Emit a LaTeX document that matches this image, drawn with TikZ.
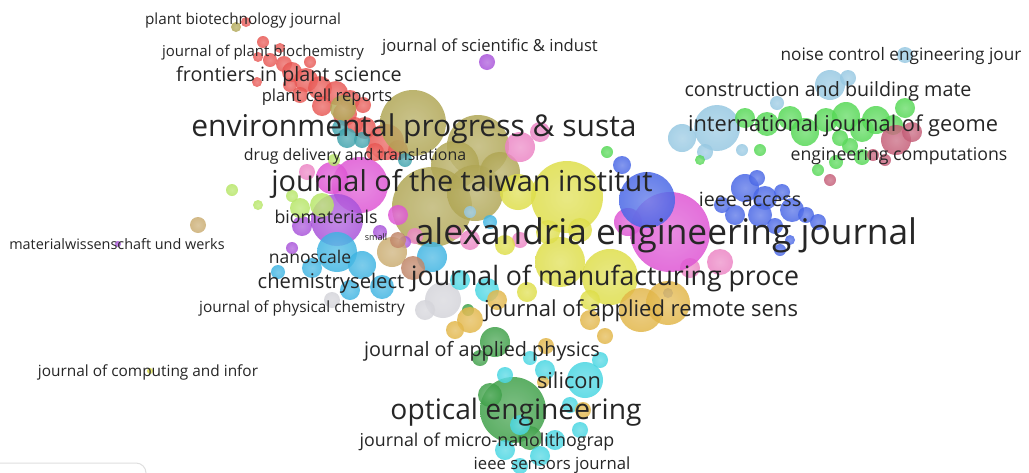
\documentclass[tikz,border=0pt]{standalone}
\usepackage{fontspec}
\setmainfont{Open Sans}
\pgfdeclarelayer{bg}
\pgfsetlayers{bg,main}
% cluster colours
\definecolor{vred}{RGB}{232,86,82}
\definecolor{volive}{RGB}{176,166,84}
\definecolor{vyellow}{RGB}{222,222,72}
\definecolor{vmag}{RGB}{222,84,212}
\definecolor{vpink}{RGB}{236,132,196}
\definecolor{vpurple}{RGB}{168,82,218}
\definecolor{vblue}{RGB}{72,102,230}
\definecolor{vgreen}{RGB}{84,216,84}
\definecolor{vltblue}{RGB}{150,200,226}
\definecolor{vrose}{RGB}{196,92,118}
\definecolor{vcyan}{RGB}{62,180,226}
\definecolor{vaqua}{RGB}{72,214,226}
\definecolor{vdkgreen}{RGB}{62,160,72}
\definecolor{vgold}{RGB}{226,182,72}
\definecolor{vlime}{RGB}{182,230,102}
\definecolor{vteal}{RGB}{62,162,172}
\definecolor{vtan}{RGB}{202,172,112}
\definecolor{vbrown}{RGB}{192,132,102}
\definecolor{vgray}{RGB}{212,212,218}
\definecolor{vlav}{RGB}{186,164,228}
\definecolor{vtext}{RGB}{38,38,38}
\tikzset{
  bubble/.style={circle,inner sep=0pt,draw=none,fill opacity=0.84,
    shading=radial,inner color=#1!80!white,outer color=#1},
  edge/.style={line width=0.7pt,draw opacity=0.35},
  lbl/.style={text=vtext,inner sep=0pt,anchor=center},
}
\newcommand\fsz[1]{\fontsize{#1}{#1}\selectfont}
\begin{document}
\begin{tikzpicture}[x=1pt,y=-1pt]
\useasboundingbox (0,0) rectangle (1029,472);
\clip (0,0) rectangle (1029,472);
\fill[white] (0,0) rectangle (1029,472);

% ---------- bubbles, cluster by cluster ----------
\foreach \x/\y/\r [count=\i] in {246/22/5,263/42/6,258/57/5,270/60/7,284/64/8,257/82/5,292/72/10,306/80/12,320/88/12,336/93/12,350/100/10,300/95/8,322/106/10,345/114/12,363/105/8,365/128/11,386/142/18,290/85/7,375/152/9,355/125/8,310/62/6,280/48/5,398/150/10}
  \node[bubble=vred,minimum size=2*\r] (red\i) at (\x,\y) {};
\foreach \x/\y/\r [count=\i] in {236/27/5,343/108/13,413/123/33,478/146/31,455/165/24,432/207/40,475/193/28,500/172/20}
  \node[bubble=volive,minimum size=2*\r] (olive\i) at (\x,\y) {};
\foreach \x/\y/\r [count=\i] in {340/128/8,347/138/10,362/140/8,405/160/7}
  \node[bubble=vteal,minimum size=2*\r] (teal\i) at (\x,\y) {};
\foreach \x/\y/\r [count=\i] in {520/147/15,540/132/10,307/172/8,720/262/13,415/236/8,690/268/10,470/240/10,520/240/8,455/232/7}
  \node[bubble=vpink,minimum size=2*\r] (pink\i) at (\x,\y) {};
\foreach \x/\y/\r [count=\i] in {360/185/28,332/178/16,670/232/40,628/222/14,398/215/10}
  \node[bubble=vmag,minimum size=2*\r] (mag\i) at (\x,\y) {};
\foreach \x/\y/\r [count=\i] in {337/220/26,302/226/10,292/248/6,487/62/8,405/242/6,118/244/3,380/232/7}
  \node[bubble=vpurple,minimum size=2*\r] (purple\i) at (\x,\y) {};
\foreach \x/\y/\r [count=\i] in {337/252/20,312/268/10,278/272/7,362/265/14,382/287/12,432/257/15,350/290/10,490/222/7}
  \node[bubble=vcyan,minimum size=2*\r] (cyan\i) at (\x,\y) {};
\foreach \x/\y/\r [count=\i] in {232/190/6,322/205/12,300/208/10,292/196/6,334/160/6,258/205/5}
  \node[bubble=vlime,minimum size=2*\r] (lime\i) at (\x,\y) {};
\foreach \x/\y/\r [count=\i] in {198/225/8,392/252/15}
  \node[bubble=vtan,minimum size=2*\r] (tan\i) at (\x,\y) {};
\foreach \x/\y/\r [count=\i] in {413/268/12,398/240/8}
  \node[bubble=vbrown,minimum size=2*\r] (brown\i) at (\x,\y) {};
\foreach \x/\y/\r [count=\i] in {443/300/18,425/310/10,332/300/8}
  \node[bubble=vgray,minimum size=2*\r] (gray\i) at (\x,\y) {};
\foreach \x/\y/\r [count=\i] in {567/197/36,560/262/25,610/277/28,518/192/18,590/300/10,527/292/10,548/232/12,505/245/10,580/230/12,150/371/3}
  \node[bubble=vyellow,minimum size=2*\r] (yellow\i) at (\x,\y) {};
\foreach \x/\y/\r [count=\i] in {647/200/28,745/188/14,765/198/12,782/192/8,792/210/12,760/215/12,735/215/10,806/215/8,775/226/8,818/222/8,722/205/8,757/178/8,622/165/9,668/293/5,790/240/5,780/250/6}
  \node[bubble=vblue,minimum size=2*\r] (blue\i) at (\x,\y) {};
\foreach \x/\y/\r [count=\i] in {717/128/23,682/138/14,777/103/7,830/85/15,848/78/8,905/55/8,742/150/6,705/152/8,470/212/6}
  \node[bubble=vltblue,minimum size=2*\r] (ltblue\i) at (\x,\y) {};
\foreach \x/\y/\r [count=\i] in {745/118/10,767/124/12,790/118/12,805/132/14,826/120/12,846/116/14,862/130/12,876/120/14,905/108/10,893/125/10,850/146/8,862/157/8,836/162/7,818/170/6,760/150/6,840/138/8,607/152/6,700/160/5}
  \node[bubble=vgreen,minimum size=2*\r] (green\i) at (\x,\y) {};
\foreach \x/\y/\r [count=\i] in {896/140/15,912/132/10,873/155/6,830/180/6,885/160/6}
  \node[bubble=vrose,minimum size=2*\r] (rose\i) at (\x,\y) {};
\foreach \x/\y/\r [count=\i] in {513/410/33,495/342/15,480/358/8,530/438/12,468/310/6,490/395/12}
  \node[bubble=vdkgreen,minimum size=2*\r] (dkgreen\i) at (\x,\y) {};
\foreach \x/\y/\r [count=\i] in {585/380/18,545/370/10,505/375/8,520/425/10,555/440/10,540/456/10,505/450/10,580/430/8,520/466/8,570/405/8,487/290/12,600/360/8,460/280/10,530/358/7}
  \node[bubble=vaqua,minimum size=2*\r] (aqua\i) at (\x,\y) {};
\foreach \x/\y/\r [count=\i] in {641/310/22,668/303/22,590/320/10,605/336/8,546/346/8,583/410/8,470/320/13,497/300/10,543/382/6,455/330/9}
  \node[bubble=vgold,minimum size=2*\r] (gold\i) at (\x,\y) {};

% ---------- links, behind the bubbles ----------
\begin{pgfonlayer}{bg}
\draw[edge,vpink] (red5.center) to[bend right=10] (purple2.center);
\draw[edge,vpink] (red9.center) to[bend right=8] (lime2.center);
\draw[edge,vpink] (red12.center) to[bend right=6] (mag2.center);
\draw[edge,vpink] (red7.center) to[bend right=12] (purple1.center);
\draw[edge,vpink] (red11.center) to[bend right=8] (lime5.center);
\draw[edge,vpink] (red13.center) to[bend right=10] (lime3.center);
\draw[edge,vpink] (red8.center) to[bend right=14] (purple3.center);
\draw[edge,vtan] (tan1.center) to[bend left=25] (lime3.center);
\draw[edge,gray] (olive3.center) to[bend left=12] (green1.center);
\draw[edge,gray] (olive4.center) to[bend left=10] (rose1.center);
\draw[edge,gray] (pink2.center) to[bend left=8] (ltblue2.center);
\draw[edge,vrose] (mag3.center) to[bend right=10] (rose2.center);
\draw[edge,vltblue] (yellow1.center) to[bend left=8] (ltblue1.center);
\draw[edge,vgreen] (blue1.center) to[bend left=6] (green5.center);
\draw[edge,vgreen] (green17.center) to[bend left=4] (green15.center);
\draw[edge,vltblue] (blue2.center) to[bend right=5] (ltblue3.center);
\draw[edge,vltblue] (mag3.center) to[bend left=8] (ltblue4.center);
\draw[edge,vltblue] (blue13.center) to[bend left=6] (ltblue1.center);
\draw[edge,vgreen] (pink1.center) to[bend left=10] (green2.center);
\draw[edge,vdkgreen] (yellow2.center) to[bend right=8] (dkgreen2.center);
\draw[edge,vaqua] (aqua2.center) to[bend right=6] (yellow3.center);
\draw[edge,vcyan] (cyan1.center) to[bend left=10] (red12.center);
\draw[edge,vpurple] (purple1.center) to[bend left=8] (red8.center);
\draw[edge,vlav] (olive6.center) to[bend right=6] (blue1.center);
\draw[edge,vlav] (cyan6.center) to[bend right=5] (mag3.center);
\draw[edge,vlav] (olive6.center) to[bend right=4] (mag3.center);
\draw[edge,vlav] (mag1.center) to[bend right=6] (yellow2.center);
\draw[edge,vlav] (purple1.center) to[bend right=8] (yellow1.center);
\draw[edge,vlav] (olive7.center) to[bend left=6] (pink4.center);
\draw[edge,vlav] (cyan4.center) to[bend right=6] (yellow3.center);
\draw[edge,vlav] (brown1.center) to[bend right=5] (pink6.center);
\draw[edge,vlav] (gray1.center) to[bend left=6] (mag4.center);
\draw[edge,vrose] (blue5.center) to[bend left=10] (rose3.center);
\draw[edge,gray] (mag3.center) to[bend right=12] (rose5.center);
\draw[edge,vgreen] (green17.center) to[bend left=6] (green3.center);
\draw[edge,vltblue] (olive4.center) to[bend left=10] (ltblue2.center);
\draw[edge,vltblue] (yellow1.center) to[bend left=10] (ltblue4.center);
\draw[edge,vaqua] (aqua1.center) to[bend left=8] (gold1.center);
\draw[edge,vaqua] (aqua3.center) to[bend left=6] (gold7.center);
\draw[edge,vlav] (gold7.center) to[bend right=8] (pink7.center);
\draw[edge,vgold] (gold6.center) to[bend right=6] (gold2.center);
\draw[edge,vlav] (mag1.center) to[bend left=6] (yellow4.center);
\draw[edge,vpink] (lime5.center) to[bend right=10] (red16.center);
\draw[edge,vblue] (blue13.center) to[bend left=6] (blue11.center);
\draw[edge,vlav] (dkgreen2.center) to[bend left=8] (purple1.center);
\draw[edge,vaqua] (dkgreen1.center) to[bend right=6] (aqua6.center);
\draw[edge,vaqua] (dkgreen2.center) to[bend right=8] (aqua1.center);
\end{pgfonlayer}

% ---------- journal labels ----------
\node[lbl,font=\fsz{15.3}] (l01) at (243,21) {plant biotechnology journal};
\node[lbl,font=\fsz{15}] (l02) at (263,53) {journal of plant biochemistry};
\node[lbl,font=\fsz{16.6}] (l03) at (490,47) {journal of scientific \& indust};
\node[lbl,font=\fsz{19.7}] (l04) at (289,76) {frontiers in plant science};
\node[lbl,font=\fsz{16.6}] (l05) at (327,97) {plant cell reports};
\node[lbl,font=\fsz{30}] (l06) at (414,129) {environmental progress \& susta};
\node[lbl,font=\fsz{15.9}] (l07) at (355,156) {drug delivery and translationa};
\node[lbl,font=\fsz{28.9}] (l08) at (462,184) {journal of the taiwan institut};
\node[lbl,font=\fsz{17.7}] (l09) at (326,217) {biomaterials};
\node[lbl,font=\fsz{9}] (l10) at (376,237) {small};
\node[lbl,font=\fsz{35.3}] (l11) at (666,235) {alexandria engineering journal};
\node[lbl,font=\fsz{14.4}] (l12) at (117,244) {materialwissenschaft und werks};
\node[lbl,font=\fsz{17.5}] (l13) at (310,257) {nanoscale};
\node[lbl,font=\fsz{20.2}] (l14) at (331,283) {chemistryselect};
\node[lbl,font=\fsz{26.7}] (l15) at (605,278) {journal of manufacturing proce};
\node[lbl,font=\fsz{15.4}] (l16) at (302,308) {journal of physical chemistry};
\node[lbl,font=\fsz{22}] (l17) at (641,311) {journal of applied remote sens};
\node[lbl,font=\fsz{19.8}] (l18) at (482,351) {journal of applied physics};
\node[lbl,font=\fsz{15.4}] (l19) at (148,372) {journal of computing and infor};
\node[lbl,font=\fsz{21.8}] (l20) at (569,380) {silicon};
\node[lbl,font=\fsz{28.2}] (l21) at (516,412) {optical engineering};
\node[lbl,font=\fsz{17.8}] (l22) at (487,442) {journal of micro-nanolithograp};
\node[lbl,font=\fsz{16.7}] (l23) at (552,465) {ieee sensors journal};
\node[lbl,font=\fsz{17.2}] (l24) at (901,56) {noise control engineering jour};
\node[lbl,font=\fsz{19.7}] (l25) at (828,91) {construction and building mate};
\node[lbl,font=\fsz{21.8}] (l26) at (843,126) {international journal of geome};
\node[lbl,font=\fsz{17.7}] (l27) at (899,156) {engineering computations};
\node[lbl,font=\fsz{19.6}] (l28) at (750,199) {ieee access};

% ---------- frame corner at the lower left ----------
\draw[gray!25,line width=1pt,rounded corners=10pt] (-10,463) -- (146,463) -- (146,490);
\end{tikzpicture}
\end{document}
